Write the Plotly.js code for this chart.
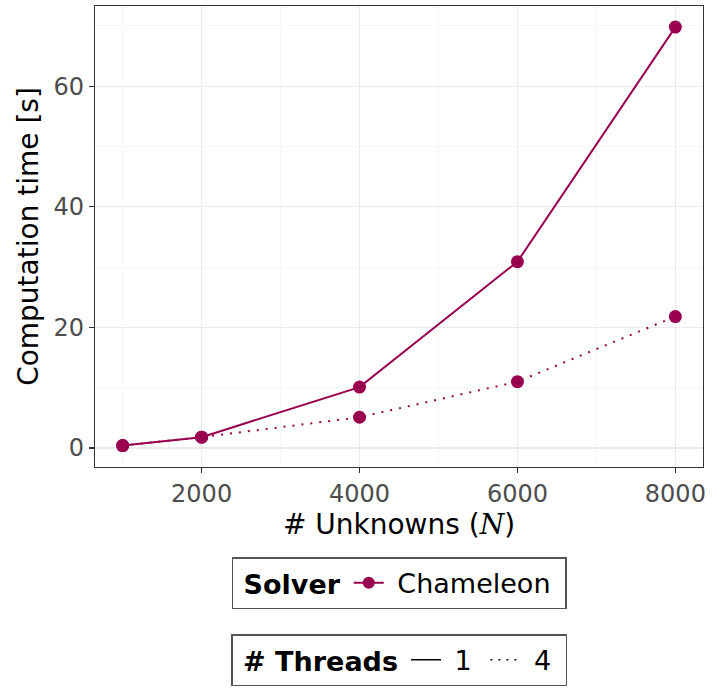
<!DOCTYPE html>
<html>
<head>
<meta charset="utf-8">
<script src="https://cdn.plot.ly/plotly-3.0.1.min.js"></script>
<style>body{margin:0;padding:0;background:#fff;}</style>
</head>
<body>
<div id="chart" style="width:725px;height:691px;"></div>
<script>
const unknowns = [1000, 2000, 4000, 6000, 8000];
const time1 = [0.4, 1.8, 10.1, 30.9, 69.8];
const time4 = [0.4, 1.8, 5.1, 11.0, 21.8];
const solverName = 'Chameleon';
const threadLabels = ['1', '4'];
const xTicks = [2000, 4000, 6000, 8000];
const yTicks = [0, 20, 40, 60];

const col = '#99004F';
const font = 'DejaVu Sans, sans-serif';
const sp = '\u00a0';

const traces = [
  {x: unknowns, y: time1, mode: 'lines+markers', line: {color: col, width: 2}, marker: {size: 13, color: col}, showlegend: false, hoverinfo: 'skip'},
  {x: unknowns, y: time4, mode: 'lines+markers', line: {color: col, width: 2, dash: '2px,7px'}, marker: {size: 13, color: col}, showlegend: false, hoverinfo: 'skip'},
  {x: [null], y: [null], mode: 'lines+markers', name: sp + solverName + sp, line: {color: col, width: 2}, marker: {size: 12, color: col}, legend: 'legend', showlegend: true},
  {x: [null], y: [null], mode: 'lines', name: sp + threadLabels[0] + sp, line: {color: '#000', width: 1.5}, legend: 'legend2', showlegend: true},
  {x: [null], y: [null], mode: 'lines', name: sp + threadLabels[1] + sp, line: {color: '#000', width: 1.5, dash: '2px,6px'}, legend: 'legend2', showlegend: true}
];

const layout = {
  width: 725, height: 691,
  margin: {l: 95, r: 22, t: 6, b: 223},
  paper_bgcolor: '#fff', plot_bgcolor: '#fff',
  font: {family: font, color: '#000'},
  xaxis: {
    range: [650, 8350], tickvals: xTicks, ticktext: xTicks.map(String),
    showgrid: true, gridcolor: '#EBEBEB', gridwidth: 1.2,
    minor: {dtick: 1000, tick0: 1000, showgrid: true, gridcolor: '#F4F4F4', gridwidth: 0.8, ticks: ''},
    ticks: 'outside', ticklen: 5, tickcolor: '#333', tickwidth: 1.1,
    tickfont: {size: 24, color: '#4D4D4D', family: font},
    showline: true, linecolor: '#333', linewidth: 1.2, mirror: true, zeroline: false,
    title: {text: '# Unknowns (<span style="font-family:DejaVu Serif"><i>N</i></span>)', font: {size: 28, color: '#000', family: font}, standoff: 0}
  },
  yaxis: {
    range: [-3.15, 73.3], tickvals: yTicks, ticktext: yTicks.map(String),
    showgrid: true, gridcolor: '#EBEBEB', gridwidth: 1.2,
    minor: {dtick: 10, tick0: 0, showgrid: true, gridcolor: '#F4F4F4', gridwidth: 0.8, ticks: ''},
    ticks: 'outside', ticklen: 5, tickcolor: '#333', tickwidth: 1.1,
    tickfont: {size: 24, color: '#4D4D4D', family: font},
    showline: true, linecolor: '#333', linewidth: 1.2, mirror: true, zeroline: false,
    title: {text: 'Computation time [s]', font: {size: 28, color: '#000', family: font}, standoff: 6}
  },
  legend: {
    title: {text: sp + '<b>Solver</b>', font: {size: 27, family: font, color: '#000'}},
    orientation: 'h', x: 0.5, xanchor: 'center', y: -0.193, yanchor: 'top',
    bordercolor: '#555', borderwidth: 1.5, bgcolor: '#fff',
    font: {size: 27, family: font, color: '#000'}
  },
  legend2: {
    title: {text: sp + '<b># Threads</b>', font: {size: 27, family: font, color: '#000'}},
    orientation: 'h', x: 0.5, xanchor: 'center', y: -0.36, yanchor: 'top',
    bordercolor: '#555', borderwidth: 1.5, bgcolor: '#fff',
    font: {size: 27, family: font, color: '#000'}
  }
};

Plotly.newPlot('chart', traces, layout, {staticPlot: true, displayModeBar: false});
</script>
</body>
</html>
